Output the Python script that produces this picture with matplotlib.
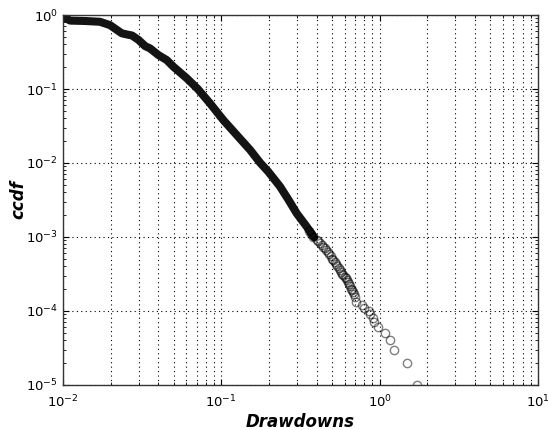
import numpy as np
import matplotlib
matplotlib.use("Agg")
import matplotlib.pyplot as plt
from matplotlib.ticker import LogLocator, NullFormatter

# dense part of the ccdf (points overlap into a solid band)
body_x = [0.0101, 0.0111, 0.0138, 0.0171, 0.0198, 0.0235, 0.0254, 0.0273, 0.030,
          0.033, 0.0355, 0.040, 0.0452, 0.0498, 0.0604, 0.071, 0.0848, 0.1028,
          0.125, 0.152, 0.1755, 0.198, 0.235, 0.265, 0.299, 0.346, 0.385]
body_y = [0.93, 0.84, 0.83, 0.81, 0.73, 0.566, 0.545, 0.528, 0.46,
          0.38, 0.353, 0.288, 0.246, 0.20, 0.14, 0.10, 0.064, 0.0381,
          0.0239, 0.0150, 0.0101, 0.00762, 0.00479, 0.0032, 0.00209, 0.00138, 0.00099]

# sparser part, single circles still visible
tail_x = [0.36, 0.37, 0.38, 0.40, 0.41, 0.42, 0.43, 0.44, 0.45, 0.46, 0.47, 0.48, 0.49, 0.50,
          0.51, 0.52, 0.53, 0.54, 0.55, 0.56, 0.57, 0.58, 0.59, 0.60, 0.61, 0.62,
          0.63, 0.64, 0.65, 0.66, 0.67, 0.68, 0.69, 0.70, 0.712, 0.77, 0.80,
          0.85, 0.87, 0.91, 0.92, 0.98, 1.08, 1.16, 1.23, 1.48, 1.71]
tail_y = [1.2e-3, 1.1e-3, 1.0e-3, 9.2e-4, 8.8e-4, 8.3e-4, 7.9e-4, 7.4e-4, 7.0e-4, 6.6e-4, 6.2e-4,
          5.8e-4, 5.5e-4, 5.1e-4, 4.9e-4, 4.6e-4, 4.3e-4, 4.0e-4, 3.8e-4, 3.6e-4,
          3.4e-4, 3.2e-4, 3.05e-4, 2.9e-4, 2.75e-4, 2.6e-4, 2.45e-4, 2.3e-4,
          2.15e-4, 2.0e-4, 1.9e-4, 1.8e-4, 1.7e-4, 1.56e-4, 1.34e-4, 1.2e-4, 1.1e-4,
          1.0e-4, 9.0e-5, 8.0e-5, 7.0e-5, 6.0e-5, 5.0e-5, 4.0e-5, 3.0e-5, 2.0e-5, 1.0e-5]

plt.rcParams['font.family'] = ['DejaVu Sans']
plt.rcParams['mathtext.default'] = 'regular'

fig = plt.figure(figsize=(5.48, 4.30), dpi=100)
ax = fig.add_axes([0.115, 0.1047, 0.8668, 0.8604])

ax.plot(body_x, body_y, '-', color='#141414', lw=5.8, solid_capstyle='round',
        solid_joinstyle='round')
ax.plot(tail_x, tail_y, 'o', mfc='none', mec='k', mew=1.0, ms=6, alpha=0.5)

ax.set_xscale('log')
ax.set_yscale('log')
ax.set_xlim(1e-2, 1e1)
ax.set_ylim(1e-5, 1e0)

ax.xaxis.set_minor_locator(LogLocator(base=10, subs=np.arange(2, 10)))
ax.yaxis.set_minor_locator(LogLocator(base=10, subs=np.arange(2, 10)))
ax.xaxis.set_minor_formatter(NullFormatter())
ax.yaxis.set_minor_formatter(NullFormatter())

ax.tick_params(which='both', direction='in', top=True, right=True, labelsize=9.5)
ax.tick_params(which='major', length=4, width=0.8)
ax.tick_params(which='minor', length=2, width=0.6)
ax.tick_params(axis='x', which='major', pad=6)

dots = (0, (1, 3))
ax.grid(True, which='major', axis='both', linestyle=dots, color='k', lw=0.8)
ax.grid(True, which='minor', axis='x', linestyle=dots, color='k', lw=0.8)

for s in ax.spines.values():
    s.set_linewidth(1.0)
    s.set_color('#333333')

ax.set_xlabel('Drawdowns', fontsize=12, fontweight='bold', fontstyle='italic', labelpad=2)
ax.set_ylabel('ccdf', fontsize=12, fontweight='bold', fontstyle='italic')
ax.yaxis.set_label_coords(-0.075, 0.5)

fig.savefig('out.png', dpi=100, facecolor='white')
